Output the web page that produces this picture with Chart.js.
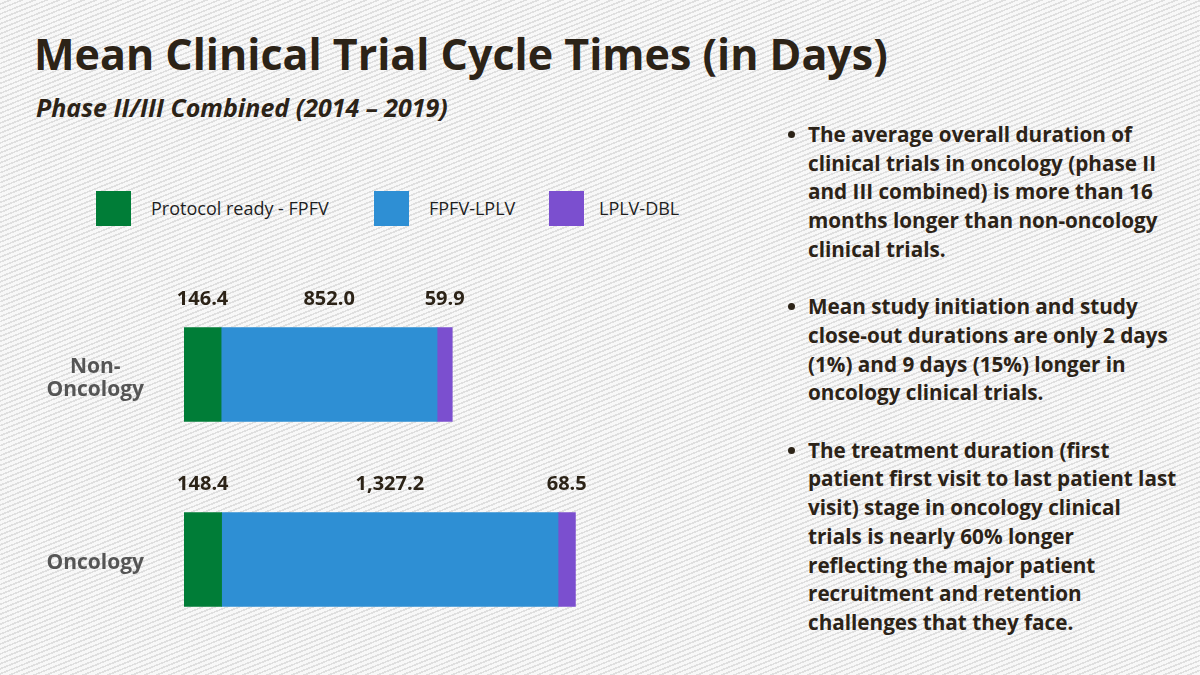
<!DOCTYPE html>
<html>
<head>
<meta charset="utf-8">
<script src="https://cdn.jsdelivr.net/npm/chart.js@4.4.1/dist/chart.umd.min.js"></script>
<style>
  html, body { margin: 0; padding: 0; }
  body {
    width: 1200px; height: 675px; position: relative; overflow: hidden;
    font-family: "Open Sans", "Noto Sans", sans-serif;
    background-color: #f7f7f7;
    background-image: repeating-linear-gradient(158deg, #f8f8f8 0px, #f8f8f8 3px, #dfdfdf 3px, #dfdfdf 4.6px);
  }
  #title {
    position: absolute; left: 34px; top: 32px; margin: 0;
    font-size: 43px; line-height: 44px; font-weight: 700; color: #2c2317; white-space: nowrap;
  }
  #subtitle {
    position: absolute; left: 36px; top: 94px; margin: 0;
    font-size: 25px; line-height: 26px; font-weight: 700; font-style: italic; color: #2c2317; white-space: nowrap;
  }
  #legend { position: absolute; left: 0; top: 191px; height: 35px; width: 760px; }
  .lg-box { position: absolute; top: 0; width: 35px; height: 35px; }
  .lg-text { position: absolute; top: 0; height: 35px; line-height: 35px; font-size: 18px; color: #1e1e1e; white-space: nowrap; }
  #chartWrap { position: absolute; left: 0; top: 260px; width: 700px; height: 415px; }
  #bullets {
    position: absolute; left: 808px; top: 120px; margin: 0; padding: 0; list-style: none;
    font-size: 20.7px; line-height: 28.7px; font-weight: 700; color: #2c2317; white-space: nowrap;
  }
  #bullets li { position: relative; margin: 0 0 28.7px 0; }
  #bullets li::before {
    content: ""; position: absolute; left: -20px; top: 11px; width: 7px; height: 7px; border-radius: 50%; background: #2c2317;
  }
</style>
</head>
<body>
<h1 id="title">Mean Clinical Trial Cycle Times (in Days)</h1>
<h2 id="subtitle">Phase II/III Combined (2014 – 2019)</h2>
<div id="legend"></div>
<div id="chartWrap"><canvas id="chart" width="700" height="415"></canvas></div>
<ul id="bullets">
  <li>The average overall duration of<br>clinical trials in oncology (phase II<br>and III combined) is more than 16<br>months longer than non-oncology<br>clinical trials.</li>
  <li>Mean study initiation and study<br>close-out durations are only 2 days<br>(1%) and 9 days (15%) longer in<br>oncology clinical trials.</li>
  <li>The treatment duration (first<br>patient first visit to last patient last<br>visit) stage in oncology clinical<br>trials is nearly 60% longer<br>reflecting the major patient<br>recruitment and retention<br>challenges that they face.</li>
</ul>
<script>
// ---- data ----
const categories = [['Non-', 'Oncology'], 'Oncology'];
const seriesNames = ['Protocol ready - FPFV', 'FPFV-LPLV', 'LPLV-DBL'];
const protocolReadyToFpfv = [146.4, 148.4];
const fpfvToLplv = [852.0, 1327.2];
const lplvToDbl = [59.9, 68.5];

// ---- styles ----
const seriesColors = ['#007d37', '#2e8fd4', '#7b4fcf'];
const legendLefts = [96, 374, 549];
const legendTextGaps = [20, 20, 15];

const valueLabels = {
  id: 'valueLabels',
  afterDatasetsDraw(chart) {
    const ctx = chart.ctx;
    ctx.save();
    ctx.font = '700 20px "Open Sans", sans-serif';
    ctx.fillStyle = '#2c2317';
    ctx.textAlign = 'center';
    ctx.textBaseline = 'middle';
    chart.data.datasets.forEach((ds, di) => {
      const meta = chart.getDatasetMeta(di);
      meta.data.forEach((el, i) => {
        const v = ds.data[i];
        const txt = v.toLocaleString('en-US', { minimumFractionDigits: 1, maximumFractionDigits: 1 });
        const cx = (el.base + el.x) / 2;
        const cy = el.y - el.height / 2 - 28;
        ctx.fillText(txt, cx, cy);
      });
    });
    ctx.restore();
  }
};

const datasets = [protocolReadyToFpfv, fpfvToLplv, lplvToDbl].map((d, i) => ({
  label: seriesNames[i],
  data: d,
  backgroundColor: seriesColors[i],
  borderWidth: 0,
  barThickness: 94
}));

const chart = new Chart(document.getElementById('chart'), {
  type: 'bar',
  data: { labels: categories, datasets },
  options: {
    indexAxis: 'y',
    responsive: false,
    animation: false,
    layout: { padding: { left: 0, right: 9, top: 22, bottom: 23 } },
    plugins: { legend: { display: false }, tooltip: { enabled: false }, title: { display: false } },
    scales: {
      x: { stacked: true, min: 0, max: 2000, display: false },
      y: {
        stacked: true,
        grid: { display: false, drawTicks: false },
        border: { display: false },
        afterFit(scale) {
          scale.width = 184;
          scale.paddingTop = 0;
          scale.paddingBottom = 0;
        },
        ticks: {
          crossAlign: 'center',
          padding: 40,
          labelOffset: 4,
          color: '#555555',
          font: { family: '"Open Sans", sans-serif', size: 21, weight: '700', lineHeight: 1.1 }
        }
      }
    }
  },
  plugins: [valueLabels]
});

// HTML legend built from the chart's datasets
const legendEl = document.getElementById('legend');
chart.data.datasets.forEach((ds, i) => {
  const box = document.createElement('div');
  box.className = 'lg-box';
  box.style.left = legendLefts[i] + 'px';
  box.style.background = ds.backgroundColor;
  const t = document.createElement('div');
  t.className = 'lg-text';
  t.style.left = (legendLefts[i] + 35 + legendTextGaps[i]) + 'px';
  t.textContent = ds.label;
  legendEl.appendChild(box);
  legendEl.appendChild(t);
});
</script>
</body>
</html>
